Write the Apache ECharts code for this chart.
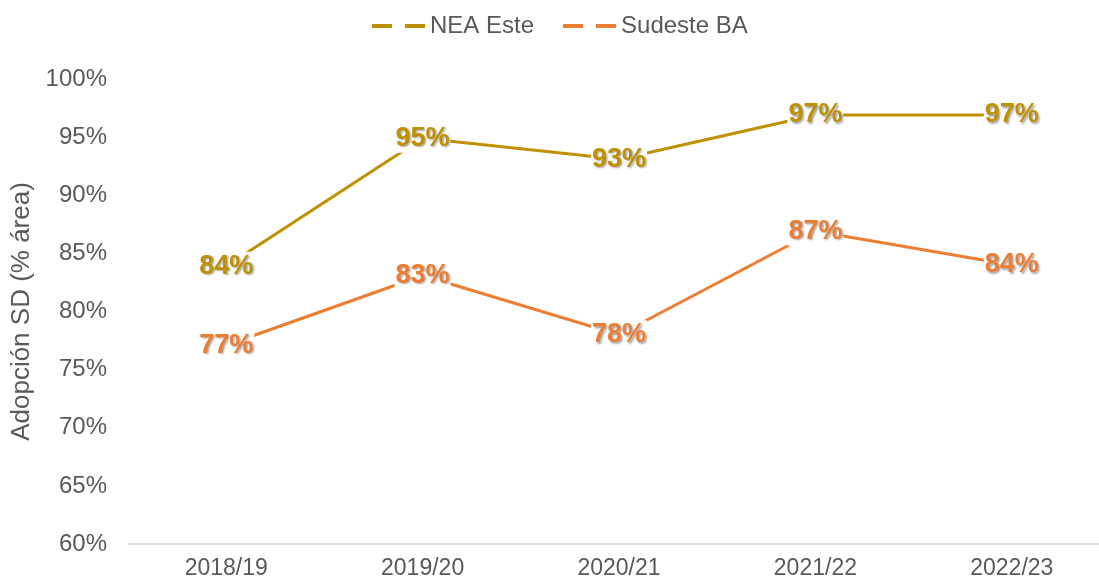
<!DOCTYPE html>
<html>
<head>
<meta charset="utf-8">
<script src="https://cdn.jsdelivr.net/npm/echarts@6/dist/echarts.min.js"></script>
<style>
html,body{margin:0;padding:0;background:#fff;overflow:hidden;width:1099px;height:580px;}
#chart{width:1110px;height:580px;}
</style>
</head>
<body>
<div id="chart"></div>
<script>
const categories = ['2018/19', '2019/20', '2020/21', '2021/22', '2022/23'];
const neaEste = [83.9, 94.9, 93.1, 96.9, 96.9];
const sudesteBA = [77.1, 83.1, 78.0, 86.9, 84.0];
const seriesNames = ['NEA Este', 'Sudeste BA'];
const seriesColors = ['#BF9000', '#ED7D31'];
const yAxisName = 'Adopción SD (% área)';

const FONT = '"Liberation Sans", Arial, sans-serif';
const dashIcon = 'path://M0,0H20V4H0Z M33,0H53V4H33Z';

function makeSeries(name, data, color) {
  return {
    name: name,
    type: 'line',
    data: data,
    symbol: 'circle',
    symbolSize: 0,
    lineStyle: { color: color, width: 3 },
    itemStyle: { color: color },
    label: {
      show: true,
      position: 'inside',
      formatter: p => Math.round(p.value) + '%',
      color: color,
      fontFamily: FONT,
      fontWeight: 'bold',
      fontSize: 27,
      backgroundColor: '#fff',
      padding: [1, 1, 1, 1],
      textShadowColor: 'rgba(0,0,0,0.35)',
      textShadowBlur: 2,
      textShadowOffsetX: 1.5,
      textShadowOffsetY: 1.5
    },
    emphasis: { disabled: true },
    animation: false
  };
}

const chart = echarts.init(document.getElementById('chart'));
chart.setOption({
  backgroundColor: '#fff',
  animation: false,
  legend: {
    top: 9,
    left: 367,
    icon: dashIcon,
    itemWidth: 53,
    itemHeight: 4,
    itemGap: 29,
    textStyle: { fontFamily: FONT, fontSize: 24, color: '#595959' },
    data: seriesNames.map((n, i) => ({ name: n, itemStyle: { color: seriesColors[i] } }))
  },
  grid: { left: 128, top: 79, right: 0, bottom: 33, containLabel: false },
  xAxis: {
    type: 'category',
    data: categories,
    boundaryGap: true,
    axisLine: { lineStyle: { color: '#D9D9D9', width: 1.5 } },
    axisTick: { show: false },
    axisLabel: { fontFamily: FONT, fontSize: 23, color: '#595959', margin: 13 },
    splitLine: { show: false }
  },
  yAxis: {
    type: 'value',
    min: 60,
    max: 100,
    interval: 5,
    name: yAxisName,
    nameLocation: 'middle',
    nameGap: 87,
    nameTextStyle: { fontFamily: FONT, fontSize: 26, color: '#595959' },
    axisLine: { show: false },
    axisTick: { show: false },
    splitLine: { show: false },
    axisLabel: { fontFamily: FONT, fontSize: 24, color: '#595959', margin: 21, formatter: '{value}%' }
  },
  series: [
    makeSeries(seriesNames[0], neaEste, seriesColors[0]),
    makeSeries(seriesNames[1], sudesteBA, seriesColors[1])
  ]
});
</script>
</body>
</html>
